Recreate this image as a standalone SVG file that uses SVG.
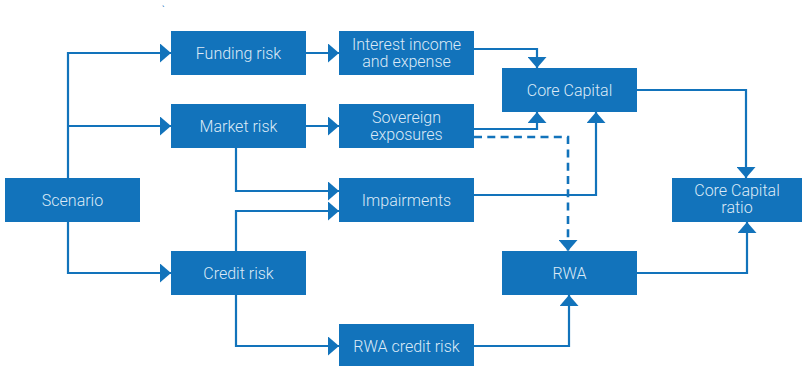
<svg xmlns="http://www.w3.org/2000/svg" width="802" height="366" viewBox="0 0 802 366">
<style>
.box{fill:#1273BB}
.t{font-family:Roboto,"Open Sans",sans-serif;font-size:16px;font-weight:300;fill:#DCEAF7;text-anchor:middle}
.c{fill:none;stroke:#1273BB;stroke-width:2.2}
.d{stroke-dasharray:8 5.3;stroke-width:2.6}
</style>
<defs>
<marker id="ah" markerUnits="userSpaceOnUse" markerWidth="11" markerHeight="19" refX="11" refY="9.5" orient="auto" viewBox="0 0 11 19">
<path d="M0,0 L11,9.5 L0,19 z" fill="#1273BB"/>
</marker>
</defs>
<rect width="802" height="366" fill="#FFFFFF"/>
<text x="162" y="13" style="font-family:Roboto,sans-serif;font-size:9px;fill:#1273BB">`</text>
<g id="connectors">
<path class="c" d="M68,178 V53 H171" marker-end="url(#ah)"/>
<path class="c" d="M68,126 H171" marker-end="url(#ah)"/>
<path class="c" d="M68,222 V273 H171" marker-end="url(#ah)"/>
<path class="c" d="M306,53 H339" marker-end="url(#ah)"/>
<path class="c" d="M306,126 H339" marker-end="url(#ah)"/>
<path class="c" d="M236,148 V191 H339" marker-end="url(#ah)"/>
<path class="c" d="M236,251 V211 H339" marker-end="url(#ah)"/>
<path class="c" d="M236,295 V346 H339" marker-end="url(#ah)"/>
<path class="c" d="M474,49 H537 V68" marker-end="url(#ah)"/>
<path class="c" d="M474,129 H537 V112" marker-end="url(#ah)"/>
<path class="c d" d="M474,137 H568 V251" marker-end="url(#ah)"/>
<path class="c" d="M474,195 H596 V112" marker-end="url(#ah)"/>
<path class="c" d="M637,90 H746 V178" marker-end="url(#ah)"/>
<path class="c" d="M637,273 H747 V222" marker-end="url(#ah)"/>
<path class="c" d="M474,346 H569 V295" marker-end="url(#ah)"/>
</g>
<g id="scenario"><rect class="box" x="5" y="178" width="135" height="44"/><text class="t" x="72.5" y="206">Scenario</text></g>
<g id="funding-risk"><rect class="box" x="171" y="31" width="135" height="44"/><text class="t" x="238.5" y="59">Funding risk</text></g>
<g id="market-risk"><rect class="box" x="171" y="104" width="135" height="44"/><text class="t" x="238.5" y="132">Market risk</text></g>
<g id="credit-risk"><rect class="box" x="171" y="251" width="135" height="44"/><text class="t" x="238.5" y="279">Credit risk</text></g>
<g id="interest"><rect class="box" x="339" y="31" width="135" height="44"/><text class="t" x="406.5" y="50">Interest income</text><text class="t" x="406.5" y="67">and expense</text></g>
<g id="sovereign"><rect class="box" x="339" y="104" width="135" height="44"/><text class="t" x="406.5" y="123">Sovereign</text><text class="t" x="406.5" y="140">exposures</text></g>
<g id="impairments"><rect class="box" x="339" y="178" width="135" height="44"/><text class="t" x="406.5" y="206">Impairments</text></g>
<g id="rwa-credit-risk"><rect class="box" x="339" y="324" width="135" height="44"/><text class="t" x="406.5" y="352">RWA credit risk</text></g>
<g id="core-capital"><rect class="box" x="502" y="68" width="135" height="44"/><text class="t" x="569.5" y="96">Core Capital</text></g>
<g id="rwa"><rect class="box" x="502" y="251" width="135" height="44"/><text class="t" x="569.5" y="279">RWA</text></g>
<g id="core-capital-ratio"><rect class="box" x="672" y="178" width="130" height="44"/><text class="t" x="737" y="196">Core Capital</text><text class="t" x="737" y="213">ratio</text></g>
</svg>
